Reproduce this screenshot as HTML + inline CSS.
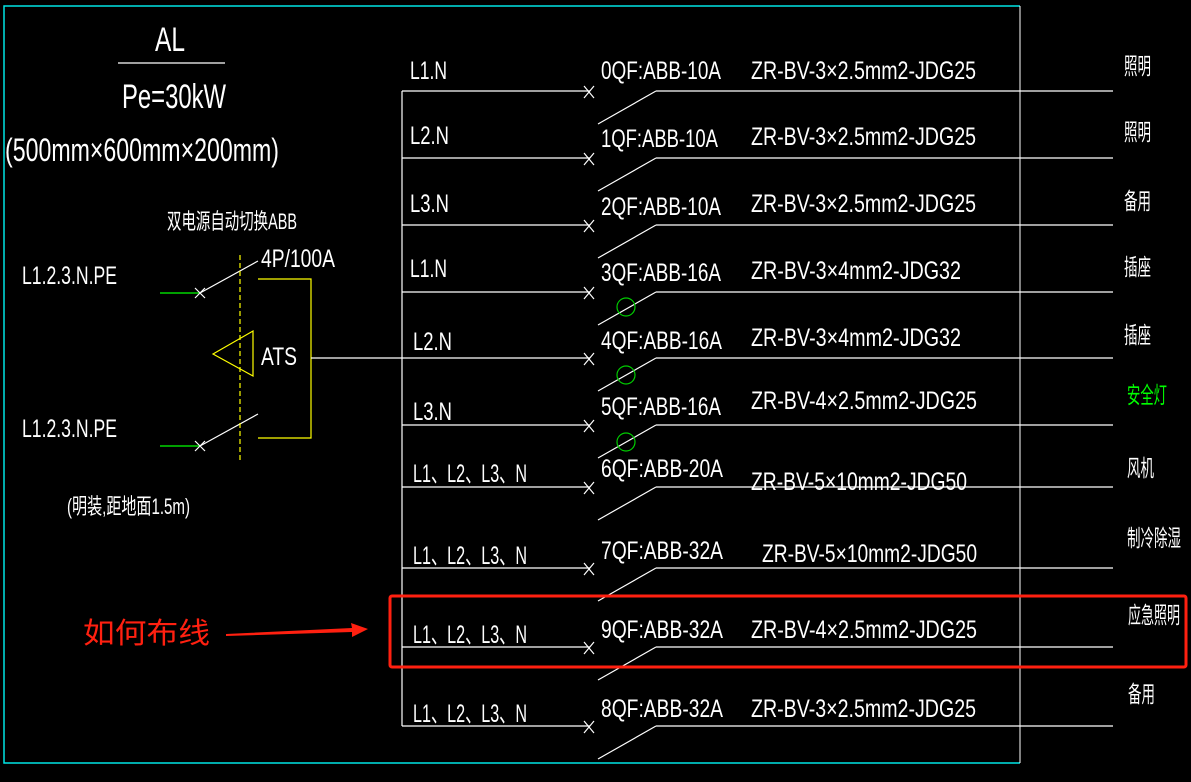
<!DOCTYPE html>
<html><head><meta charset="utf-8"><style>
html,body{margin:0;padding:0;background:#000;}
svg{display:block}
text{font-family:"Liberation Sans","Noto Sans CJK SC",sans-serif;fill:#fff;}
</style></head><body>
<svg width="1191" height="782" viewBox="0 0 1191 782" xmlns="http://www.w3.org/2000/svg">
<rect width="1191" height="782" fill="#000"/>
<polyline points="1020,6 4,6 4,763 1020,763" fill="none" stroke="#00e5e5" stroke-width="1.5"/>
<line x1="1020" y1="6" x2="1020" y2="763" stroke="#fff" stroke-width="1"/>

<text x="155" y="51" font-size="34" textLength="30" lengthAdjust="spacingAndGlyphs">AL</text>
<line x1="118" y1="63" x2="225" y2="63" stroke="#fff" stroke-width="1.2"/>
<text x="122" y="108" font-size="34" textLength="104" lengthAdjust="spacingAndGlyphs">Pe=30kW</text>
<text x="5" y="161" font-size="32" textLength="274" lengthAdjust="spacingAndGlyphs">(500mm×600mm×200mm)</text>
<text x="167" y="229" font-size="22" textLength="130" lengthAdjust="spacingAndGlyphs">双电源自动切换ABB</text>
<text x="261" y="267" font-size="25" textLength="74" lengthAdjust="spacingAndGlyphs">4P/100A</text>
<text x="22" y="284" font-size="25" textLength="95" lengthAdjust="spacingAndGlyphs">L1.2.3.N.PE</text>
<text x="22" y="437" font-size="25" textLength="95" lengthAdjust="spacingAndGlyphs">L1.2.3.N.PE</text>
<text x="67" y="514" font-size="22" textLength="123" lengthAdjust="spacingAndGlyphs">(明装,距地面1.5m)</text>

<g stroke-width="1.2">
<line x1="160" y1="293" x2="199" y2="293" stroke="#0f0"/>
<line x1="160" y1="446" x2="199" y2="446" stroke="#0f0"/>
<line x1="200" y1="293" x2="258" y2="261" stroke="#fff"/>
<line x1="200" y1="446" x2="258" y2="414" stroke="#fff"/>
<path d="M195,288 L205,298 M205,288 L195,298 M195,441 L205,451 M205,441 L195,451" stroke="#fff"/>
<line x1="240" y1="255" x2="240" y2="463" stroke="#ff0" stroke-dasharray="5,3"/>
<polyline points="258,279 311,279 311,438 258,438" fill="none" stroke="#ff0"/>
<polygon points="213,354 253,331 253,376" fill="none" stroke="#ff0"/>
<line x1="311" y1="358" x2="402" y2="358" stroke="#fff"/>
</g>
<text x="261" y="365" font-size="25" textLength="36" lengthAdjust="spacingAndGlyphs">ATS</text>

<line x1="402" y1="91" x2="402" y2="726" stroke="#fff" stroke-width="1.2"/>

<g stroke="#fff" stroke-width="1.2" fill="none">
<path d="M402,91H590M656,91H1113M656,91L598,124"/>
<path d="M402,158H590M656,158H1113M656,158L598,191"/>
<path d="M402,225H590M656,225H1113M656,225L598,258"/>
<path d="M402,292H590M656,292H1113M656,292L598,325"/>
<path d="M402,358H590M656,358H1113M656,358L598,391"/>
<path d="M402,425H590M656,425H1113M656,425L598,458"/>
<path d="M402,487H590M656,487H1113M656,487L598,520"/>
<path d="M402,568H590M656,568H1113M656,568L598,601"/>
<path d="M402,647H590M656,647H1113M656,647L598,680"/>
<path d="M402,726H590M656,726H1113M656,726L598,759"/>
<path d="M584,86l10,12M594,86l-10,12"/>
<path d="M584,153l10,12M594,153l-10,12"/>
<path d="M584,220l10,12M594,220l-10,12"/>
<path d="M584,287l10,12M594,287l-10,12"/>
<path d="M584,353l10,12M594,353l-10,12"/>
<path d="M584,420l10,12M594,420l-10,12"/>
<path d="M584,482l10,12M594,482l-10,12"/>
<path d="M584,563l10,12M594,563l-10,12"/>
<path d="M584,642l10,12M594,642l-10,12"/>
<path d="M584,721l10,12M594,721l-10,12"/>
</g>
<g stroke="#0c0" stroke-width="1.2" fill="none">
<circle cx="626" cy="307" r="9"/>
<circle cx="626" cy="375" r="9"/>
<circle cx="626" cy="442" r="9"/>
</g>

<g font-size="25">
<text x="410" y="79" textLength="37" lengthAdjust="spacingAndGlyphs">L1.N</text>
<text x="410" y="144" textLength="39" lengthAdjust="spacingAndGlyphs">L2.N</text>
<text x="410" y="212" textLength="39" lengthAdjust="spacingAndGlyphs">L3.N</text>
<text x="410" y="277" textLength="37" lengthAdjust="spacingAndGlyphs">L1.N</text>
<text x="413" y="350" textLength="39" lengthAdjust="spacingAndGlyphs">L2.N</text>
<text x="413" y="420" textLength="39" lengthAdjust="spacingAndGlyphs">L3.N</text>
<text x="413" y="482" textLength="114" lengthAdjust="spacingAndGlyphs">L1、L2、L3、N</text>
<text x="413" y="564" textLength="114" lengthAdjust="spacingAndGlyphs">L1、L2、L3、N</text>
<text x="413" y="643" textLength="114" lengthAdjust="spacingAndGlyphs">L1、L2、L3、N</text>
<text x="413" y="722" textLength="114" lengthAdjust="spacingAndGlyphs">L1、L2、L3、N</text>

<text x="601" y="79" textLength="120" lengthAdjust="spacingAndGlyphs">0QF:ABB-10A</text>
<text x="601" y="147" textLength="117" lengthAdjust="spacingAndGlyphs">1QF:ABB-10A</text>
<text x="601" y="215" textLength="120" lengthAdjust="spacingAndGlyphs">2QF:ABB-10A</text>
<text x="601" y="281" textLength="120" lengthAdjust="spacingAndGlyphs">3QF:ABB-16A</text>
<text x="601" y="349" textLength="121" lengthAdjust="spacingAndGlyphs">4QF:ABB-16A</text>
<text x="601" y="415" textLength="120" lengthAdjust="spacingAndGlyphs">5QF:ABB-16A</text>
<text x="601" y="477" textLength="122" lengthAdjust="spacingAndGlyphs">6QF:ABB-20A</text>
<text x="601" y="559" textLength="122" lengthAdjust="spacingAndGlyphs">7QF:ABB-32A</text>
<text x="601" y="638" textLength="122" lengthAdjust="spacingAndGlyphs">9QF:ABB-32A</text>
<text x="601" y="717" textLength="122" lengthAdjust="spacingAndGlyphs">8QF:ABB-32A</text>

<text x="751" y="79" textLength="225" lengthAdjust="spacingAndGlyphs">ZR-BV-3×2.5mm2-JDG25</text>
<text x="751" y="145" textLength="225" lengthAdjust="spacingAndGlyphs">ZR-BV-3×2.5mm2-JDG25</text>
<text x="751" y="212" textLength="225" lengthAdjust="spacingAndGlyphs">ZR-BV-3×2.5mm2-JDG25</text>
<text x="751" y="279" textLength="210" lengthAdjust="spacingAndGlyphs">ZR-BV-3×4mm2-JDG32</text>
<text x="751" y="346" textLength="210" lengthAdjust="spacingAndGlyphs">ZR-BV-3×4mm2-JDG32</text>
<text x="751" y="409" textLength="226" lengthAdjust="spacingAndGlyphs">ZR-BV-4×2.5mm2-JDG25</text>
<text x="751" y="490" textLength="216" lengthAdjust="spacingAndGlyphs">ZR-BV-5×10mm2-JDG50</text>
<text x="762" y="562" textLength="215" lengthAdjust="spacingAndGlyphs">ZR-BV-5×10mm2-JDG50</text>
<text x="751" y="638" textLength="226" lengthAdjust="spacingAndGlyphs">ZR-BV-4×2.5mm2-JDG25</text>
<text x="751" y="717" textLength="225" lengthAdjust="spacingAndGlyphs">ZR-BV-3×2.5mm2-JDG25</text>
</g>

<g font-size="23">
<text x="1124" y="74" textLength="27" lengthAdjust="spacingAndGlyphs">照明</text>
<text x="1124" y="140" textLength="27" lengthAdjust="spacingAndGlyphs">照明</text>
<text x="1124" y="209" textLength="27" lengthAdjust="spacingAndGlyphs">备用</text>
<text x="1124" y="275" textLength="27" lengthAdjust="spacingAndGlyphs">插座</text>
<text x="1124" y="343" textLength="27" lengthAdjust="spacingAndGlyphs">插座</text>
<text x="1127" y="403" textLength="40" lengthAdjust="spacingAndGlyphs" style="fill:#0f0">安全灯</text>
<text x="1127" y="476" textLength="27" lengthAdjust="spacingAndGlyphs">风机</text>
<text x="1127" y="546" textLength="54" lengthAdjust="spacingAndGlyphs">制冷除湿</text>
<text x="1128" y="623" textLength="52" lengthAdjust="spacingAndGlyphs">应急照明</text>
<text x="1128" y="702" textLength="27" lengthAdjust="spacingAndGlyphs">备用</text>
</g>

<rect x="390" y="596" width="796" height="71" rx="2" fill="none" stroke="#ff2010" stroke-width="3"/>
<text x="83" y="643" font-size="29" textLength="127" lengthAdjust="spacingAndGlyphs" style="fill:#ff2010">如何布线</text>
<polygon points="226,634 352,628 351,623 368,629 352,637 352,632 226,636" fill="#ff2010"/>
</svg>
</body></html>
